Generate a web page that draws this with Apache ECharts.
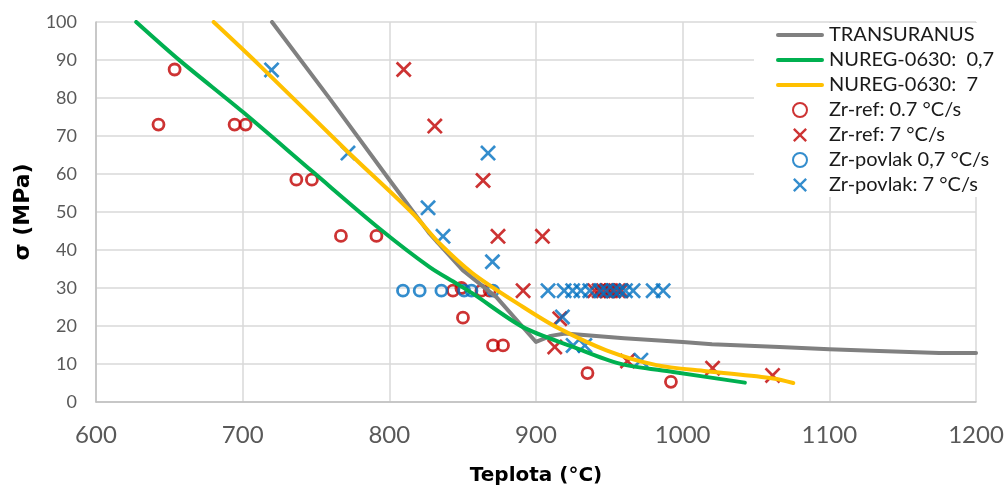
<!DOCTYPE html>
<html>
<head>
<meta charset="utf-8">
<title>σ vs Teplota</title>
<script src="https://cdn.jsdelivr.net/npm/echarts@6/dist/echarts.min.js"></script>
<style>
  html, body { margin: 0; padding: 0; background: #fff; }
  #chart { width: 1005px; height: 488px; }
</style>
</head>
<body>
<div id="chart"></div>
<script>
// Axis ticks
const xTicks = [600, 700, 800, 900, 1000, 1100, 1200];
const yTicks = [0, 10, 20, 30, 40, 50, 60, 70, 80, 90, 100];

// TRANSURANUS model curve
const transT = [720, 760, 800, 827, 850, 873, 900, 910, 920, 960, 1000, 1020, 1066, 1100, 1134, 1175, 1200];
const transS = [100, 79.5, 58.5, 44.5, 34.7, 27.6, 15.8, 17.4, 18.0, 16.8, 15.8, 15.2, 14.5, 13.9, 13.4, 12.9, 12.9];

// NUREG-0630, heating rate 0,7 °C/s
const nureg07T = [627.4, 657, 700.2, 748, 793.4, 827.5, 845.7, 857, 891.2, 925.3, 957.1, 993.5, 1042.4];
const nureg07S = [100, 89.9, 76.3, 60.5, 45.6, 35.5, 31.2, 28.5, 19.7, 14.5, 10.1, 7.9, 5.1];

// NUREG-0630, heating rate 7 °C/s
const nureg7T = [680.2, 711.5, 771.8, 816, 834.3, 857, 891.2, 914, 948, 982.2, 1016.3, 1061.7, 1075.4];
const nureg7S = [100, 88.6, 65.8, 49.6, 41.7, 33.8, 25.0, 19.7, 13.6, 9.7, 8.1, 6.2, 5.0];

// Zr-ref, 0.7 °C/s
const refSlowT = [642.6, 653.6, 694.5, 702, 736.6, 747.2, 767, 791.2, 843.4, 849.1, 850.2, 862.8, 868.4, 870.7, 877.5, 935.1, 992];
const refSlowS = [73, 87.5, 73, 73, 58.5, 58.5, 43.7, 43.7, 29.3, 30.0, 22.2, 29.3, 29.3, 14.9, 14.9, 7.6, 5.3];

// Zr-ref, 7 °C/s
const refFastT = [809.8, 831, 863.9, 874.1, 904.4, 891.2, 916.2, 912.8, 962.4, 1020.4, 1061.3, 940, 943, 946, 949, 951, 953, 956, 958];
const refFastS = [87.5, 72.6, 58.3, 43.6, 43.6, 29.3, 21.9, 14.5, 10.8, 8.9, 7.0, 29.3, 29.3, 29.3, 29.3, 29.3, 29.3, 29.3, 29.3];

// Zr-povlak, 0,7 °C/s
const povSlowT = [809.3, 820.7, 835.5, 851, 856, 870.7];
const povSlowS = [29.3, 29.3, 29.3, 29.3, 29.3, 29.3];

// Zr-povlak, 7 °C/s
const povFastT = [719.7, 771.8, 826.4, 836.6, 867.3, 870.3, 918, 925.3, 933.3, 971.5, 908.2, 919.2, 925, 930.6, 936.7, 944, 948, 953, 957, 961, 966.2, 979.9, 986.7];
const povFastS = [87.4, 65.5, 51.1, 43.6, 65.5, 36.9, 22.4, 14.9, 14.9, 11.0, 29.3, 29.3, 29.3, 29.3, 29.3, 29.3, 29.3, 29.3, 29.3, 29.3, 29.3, 29.3, 29.3];

const names = ['TRANSURANUS', 'NUREG-0630:  0,7', 'NUREG-0630:  7', 'Zr-ref: 0.7 °C/s', 'Zr-ref: 7 °C/s', 'Zr-povlak 0,7 °C/s', 'Zr-povlak: 7 °C/s'];

const zip = (xs, ys) => xs.map((x, i) => [x, ys[i]]);

const FONT = 'Lato, "Open Sans", sans-serif';
const TITLE_FONT = '"DejaVu Sans", sans-serif';
const RED = '#C00000';
const BLUE = '#0070C0';
const CROSS = 'path://M0,2.4 L2.4,0 L10,7.6 L17.6,0 L20,2.4 L12.4,10 L20,17.6 L17.6,20 L10,12.4 L2.4,20 L0,17.6 L7.6,10 Z';
const BAR = 'path://M2,0 L46,0 A2,2 0 0 1 46,4 L2,4 A2,2 0 0 1 2,0 Z';

function lineSeries(name, xs, ys, color, smooth) {
  return {
    name, type: 'line', data: zip(xs, ys),
    symbol: 'none', smooth: smooth, clip: true,
    lineStyle: { color, width: 4, cap: 'round', join: 'round' },
    itemStyle: { color }
  };
}
function circleSeries(name, xs, ys, color) {
  return {
    name, type: 'scatter', data: zip(xs, ys),
    symbol: 'circle', symbolSize: 11,
    itemStyle: { color: 'rgba(255,255,255,0)', borderColor: color, borderWidth: 2.8 }
  };
}
function crossSeries(name, xs, ys, color) {
  return {
    name, type: 'scatter', data: zip(xs, ys),
    symbol: CROSS, symbolSize: 16,
    itemStyle: { color }
  };
}

const chart = echarts.init(document.getElementById('chart'), null, { renderer: 'canvas' });
chart.setOption({
  animation: false,
  backgroundColor: '#fff',
  grid: { left: 96, right: 29, top: 22, bottom: 86, containLabel: false, outerBoundsMode: 'none' },
  xAxis: {
    type: 'value', min: xTicks[0], max: xTicks[xTicks.length - 1], interval: 100,
    name: 'Teplota (°C)', nameLocation: 'middle', nameGap: 64,
    nameTextStyle: { fontFamily: TITLE_FONT, fontSize: 20, fontWeight: 'bold', color: '#000' },
    axisLine: { lineStyle: { color: '#BFBFBF', width: 1.5 } },
    axisTick: { show: false },
    axisLabel: { fontFamily: FONT, fontSize: 24, color: '#595959', margin: 21, formatter: v => String(v) },
    splitLine: { show: true, lineStyle: { color: '#D9D9D9', width: 1.5 } }
  },
  yAxis: {
    type: 'value', min: yTicks[0], max: yTicks[yTicks.length - 1], interval: 10,
    name: 'σ (MPa)', nameLocation: 'middle', nameGap: 52,
    nameTextStyle: { fontFamily: TITLE_FONT, fontSize: 22, fontWeight: 'bold', color: '#000' },
    axisLine: { show: true, lineStyle: { color: '#BFBFBF', width: 1.5 } },
    axisTick: { show: false },
    axisLabel: { fontFamily: FONT, fontSize: 18, color: '#595959', margin: 19, formatter: v => String(v) },
    splitLine: { show: true, lineStyle: { color: '#D9D9D9', width: 1.5 } }
  },
  legend: {
    orient: 'vertical', left: 754, top: 23,
    padding: [2, 10, 2, 22],
    backgroundColor: '#fff',
    itemWidth: 48, itemHeight: 14, itemGap: 5,
    textStyle: { fontFamily: FONT, fontSize: 20, lineHeight: 20, color: '#1a1a1a' },
    data: [
      { name: names[0], icon: BAR },
      { name: names[1], icon: BAR },
      { name: names[2], icon: BAR },
      names[3], names[4], names[5], names[6]
    ]
  },
  series: [
    lineSeries(names[0], transT, transS, '#808080', false),
    lineSeries(names[1], nureg07T, nureg07S, '#00B050', 0.3),
    lineSeries(names[2], nureg7T, nureg7S, '#FFC000', 0.3),
    circleSeries(names[3], refSlowT, refSlowS, RED),
    crossSeries(names[4], refFastT, refFastS, RED),
    circleSeries(names[5], povSlowT, povSlowS, BLUE),
    crossSeries(names[6], povFastT, povFastS, BLUE)
  ]
});
</script>
</body>
</html>
